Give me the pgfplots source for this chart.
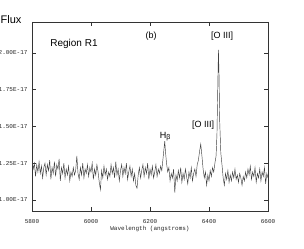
\documentclass[border=0pt]{standalone}
\usepackage{fontspec}
\setmainfont{Liberation Sans}
\newfontfamily\monofont{Liberation Mono}
\usepackage{pgfplots}
\pgfplotsset{compat=1.18}
\begin{document}
\begin{tikzpicture}
\begin{axis}[
  scale only axis,
  width=236pt, height=189pt,
  xmin=5800, xmax=6600,
  ymin=0.925, ymax=2.21,
  xtick={5800,6000,6200,6400,6600},
  xticklabels={5800,6000,6200,6400,6600},
  ytick={1.00,1.25,1.50,1.75,2.00},
  yticklabels={1.00E-17,1.25E-17,1.50E-17,1.75E-17,2.00E-17},
  minor tick num=0,
  tick align=inside,
  tick pos=both,
  major tick length=4pt,
  every tick/.style={black!80, line width=0.7pt},
  axis line style={black!80, line width=0.9pt},
  ticklabel style={font=\monofont\fontsize{6}{6}\selectfont, text=black!85},
  xticklabel style={yshift=-5pt},
  yticklabel style={xshift=-1pt},
  xlabel={Wavelength (angstroms)},
  xlabel style={font=\monofont\fontsize{6}{6}\selectfont, text=black!85, at={(axis description cs:0.5,0)}, anchor=center, yshift=-18pt},
  clip=true,
]
\addplot[black!75, line width=0.45pt] coordinates {
(5800,1.27)(5804,1.21)(5808,1.25)(5812,1.16)(5816,1.24)(5820,1.19)(5824,1.26)(5828,1.18)(5832,1.23)(5836,1.15)
(5840,1.22)(5844,1.25)(5848,1.17)(5852,1.24)(5856,1.20)(5860,1.27)(5864,1.14)(5868,1.22)(5872,1.18)(5876,1.26)
(5880,1.16)(5884,1.24)(5888,1.21)(5892,1.28)(5896,1.13)(5900,1.22)(5904,1.18)(5908,1.25)(5912,1.15)(5916,1.21)
(5920,1.17)(5924,1.23)(5928,1.13)(5932,1.19)(5936,1.16)(5940,1.22)(5944,1.17)(5948,1.20)(5952,1.30)(5956,1.18)
(5960,1.14)(5964,1.22)(5968,1.17)(5972,1.25)(5976,1.15)(5980,1.21)(5984,1.18)(5988,1.24)(5992,1.16)(5996,1.22)
(6000,1.19)(6004,1.25)(6008,1.14)(6012,1.21)(6016,1.17)(6020,1.24)(6024,1.19)(6028,1.12)(6032,1.07)(6036,1.20)
(6040,1.15)(6044,1.23)(6048,1.17)(6052,1.21)(6056,1.14)(6060,1.19)(6064,1.16)(6068,1.24)(6072,1.18)(6076,1.22)
(6080,1.15)(6084,1.26)(6088,1.17)(6092,1.21)(6096,1.13)(6100,1.20)(6104,1.24)(6108,1.16)(6112,1.22)(6116,1.18)
(6120,1.25)(6124,1.14)(6128,1.19)(6132,1.23)(6136,1.16)(6140,1.21)(6144,1.13)(6148,1.18)(6152,1.10)(6156,1.08)
(6160,1.17)(6164,1.22)(6168,1.15)(6172,1.20)(6176,1.24)(6180,1.16)(6184,1.22)(6188,1.18)(6192,1.25)(6196,1.14)
(6200,1.21)(6204,1.17)(6208,1.23)(6212,1.15)(6216,1.19)(6220,1.24)(6224,1.16)(6228,1.21)(6232,1.18)(6236,1.23)
(6240,1.20)(6244,1.28)(6248,1.36)(6250,1.40)(6252,1.34)(6256,1.25)(6260,1.19)(6264,1.22)(6268,1.13)(6272,1.18)
(6276,1.15)(6280,1.21)(6284,1.05)(6288,1.17)(6292,1.13)(6296,1.20)(6300,1.15)(6304,1.22)(6308,1.12)(6312,1.18)
(6316,1.14)(6320,1.21)(6324,1.16)(6328,1.11)(6332,1.19)(6336,1.15)(6340,1.22)(6344,1.13)(6348,1.18)(6352,1.21)
(6356,1.16)(6360,1.24)(6364,1.27)(6368,1.33)(6372,1.38)(6376,1.30)(6380,1.21)(6384,1.15)(6388,1.19)(6392,1.10)
(6396,1.17)(6400,1.13)(6404,1.20)(6408,1.16)(6412,1.22)(6416,1.19)(6420,1.25)(6424,1.30)(6427,1.45)(6430,1.80)
(6432,2.02)(6434,1.85)(6436,1.55)(6440,1.32)(6444,1.24)(6448,1.15)(6452,1.10)(6456,1.18)(6460,1.14)(6464,1.20)
(6468,1.12)(6472,1.17)(6476,1.13)(6480,1.19)(6484,1.15)(6488,1.21)(6492,1.14)(6496,1.17)(6500,1.12)(6504,1.18)
(6508,1.15)(6512,1.10)(6516,1.16)(6520,1.13)(6524,1.19)(6528,1.15)(6532,1.21)(6536,1.17)(6540,1.23)(6544,1.14)
(6548,1.19)(6552,1.16)(6556,1.22)(6560,1.12)(6564,1.18)(6568,1.15)(6572,1.21)(6576,1.13)(6580,1.19)(6584,1.16)
(6588,1.22)(6592,1.11)(6596,1.18)(6600,1.15)
};
\end{axis}
\node[font=\fontsize{11}{11}\selectfont] at (-21pt,191pt) {Flux};
\node[font=\fontsize{10}{10}\selectfont] at (42pt,167pt) {Region R1};
\node[font=\fontsize{9}{9}\selectfont] at (119pt,175pt) {(b)};
\node[font=\fontsize{9}{9}\selectfont] at (190pt,175pt) {[O III]};
\node[font=\fontsize{9}{9}\selectfont] at (171pt,85.5pt) {[O III]};
\node[font=\fontsize{9}{9}\selectfont] at (131pt,76pt) {H};
\node[font=\fontsize{7}{7}\selectfont] at (136.5pt,73pt) {β};
\pgfresetboundingbox
\path[use as bounding box] (-32pt,-37pt) rectangle (272pt,211pt);
\end{tikzpicture}
\end{document}
